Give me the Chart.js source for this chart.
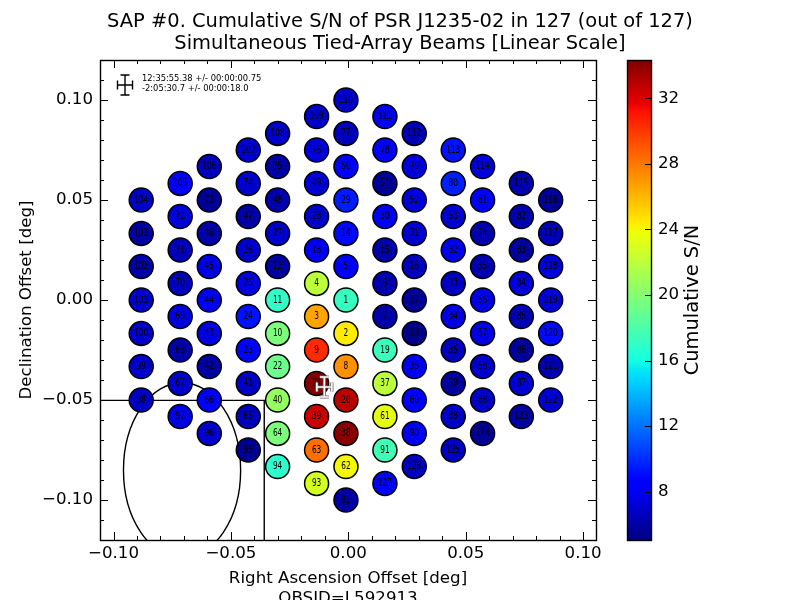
<!DOCTYPE html>
<html><head><meta charset="utf-8">
<style>html,body{margin:0;padding:0;background:#fff}canvas{display:block}</style>
<script src="https://cdn.jsdelivr.net/npm/chart.js@4/dist/chart.umd.min.js"></script>
</head><body>
<div style="width:800px;height:600px"><canvas id="c" width="800" height="600"></canvas></div>
<script>
// Beam labels, listed by column (left to right, top to bottom)
const beamLabels = [
104,103,102,101,100,99,98,
105,72,71,70,69,68,67,97,
106,73,46,45,44,43,42,66,96,
107,74,47,26,25,24,23,41,65,95,
108,75,48,27,12,11,10,22,40,64,94,
109,76,49,28,13,4,3,9,21,39,63,93,
110,77,50,29,14,5,1,2,8,20,38,62,92,
111,78,51,30,15,6,7,19,37,61,91,127,
112,79,52,31,16,17,18,36,60,90,126,
113,80,53,32,33,34,35,59,89,125,
114,81,54,55,56,57,58,88,124,
115,82,83,84,85,86,87,123,
116,117,118,119,120,121,122];
const beamRA = [
-0.0882,-0.0882,-0.0882,-0.0882,-0.0882,-0.0882,-0.0882,
-0.0716,-0.0716,-0.0716,-0.0716,-0.0716,-0.0716,-0.0716,-0.0716,
-0.0592,-0.0592,-0.0592,-0.0592,-0.0592,-0.0592,-0.0592,-0.0592,-0.0592,
-0.0426,-0.0426,-0.0426,-0.0426,-0.0426,-0.0426,-0.0426,-0.0426,-0.0426,-0.0426,
-0.0301,-0.0301,-0.0301,-0.0301,-0.0301,-0.0301,-0.0301,-0.0301,-0.0301,-0.0301,-0.0301,
-0.0135,-0.0135,-0.0135,-0.0135,-0.0135,-0.0135,-0.0135,-0.0135,-0.0135,-0.0135,-0.0135,-0.0135,
-0.0010,-0.0010,-0.0010,-0.0010,-0.0010,-0.0010,-0.0010,-0.0010,-0.0010,-0.0010,-0.0010,-0.0010,-0.0010,
0.0156,0.0156,0.0156,0.0156,0.0156,0.0156,0.0156,0.0156,0.0156,0.0156,0.0156,0.0156,
0.0281,0.0281,0.0281,0.0281,0.0281,0.0281,0.0281,0.0281,0.0281,0.0281,0.0281,
0.0447,0.0447,0.0447,0.0447,0.0447,0.0447,0.0447,0.0447,0.0447,0.0447,
0.0572,0.0572,0.0572,0.0572,0.0572,0.0572,0.0572,0.0572,0.0572,
0.0737,0.0737,0.0737,0.0737,0.0737,0.0737,0.0737,0.0737,
0.0862,0.0862,0.0862,0.0862,0.0862,0.0862,0.0862];
const beamDec = [
0.0500,0.0333,0.0167,0.0000,-0.0167,-0.0333,-0.0500,
0.0583,0.0417,0.0250,0.0083,-0.0083,-0.0250,-0.0417,-0.0583,
0.0667,0.0500,0.0333,0.0167,0.0000,-0.0167,-0.0333,-0.0500,-0.0667,
0.0750,0.0583,0.0417,0.0250,0.0083,-0.0083,-0.0250,-0.0417,-0.0583,-0.0750,
0.0833,0.0667,0.0500,0.0333,0.0167,0.0000,-0.0167,-0.0333,-0.0500,-0.0667,-0.0833,
0.0917,0.0750,0.0583,0.0417,0.0250,0.0083,-0.0083,-0.0250,-0.0417,-0.0583,-0.0750,-0.0917,
0.1000,0.0833,0.0667,0.0500,0.0333,0.0167,0.0000,-0.0167,-0.0333,-0.0500,-0.0667,-0.0833,-0.1000,
0.0917,0.0750,0.0583,0.0417,0.0250,0.0083,-0.0083,-0.0250,-0.0417,-0.0583,-0.0750,-0.0917,
0.0833,0.0667,0.0500,0.0333,0.0167,0.0000,-0.0167,-0.0333,-0.0500,-0.0667,-0.0833,
0.0750,0.0583,0.0417,0.0250,0.0083,-0.0083,-0.0250,-0.0417,-0.0583,-0.0750,
0.0667,0.0500,0.0333,0.0167,0.0000,-0.0167,-0.0333,-0.0500,-0.0667,
0.0583,0.0417,0.0250,0.0083,-0.0083,-0.0250,-0.0417,-0.0583,
0.0500,0.0333,0.0167,0.0000,-0.0167,-0.0333,-0.0500];
const beamSN = [
7.0,6.0,6.1,7.0,7.0,7.0,6.8,
8.3,7.3,6.5,6.6,7.4,6.1,7.0,7.6,
6.6,5.7,6.2,7.6,8.1,7.7,6.0,8.3,7.2,
6.9,7.0,6.0,7.0,7.5,9.2,8.8,6.8,6.6,5.5,
7.0,6.0,6.3,7.0,5.9,17.0,19.7,19.1,20.6,19.7,16.8,
7.0,7.3,7.2,7.0,8.1,22.0,26.6,30.4,34.2,32.5,28.3,22.9,
7.0,6.6,8.6,9.5,8.9,8.3,17.2,24.4,27.2,32.8,34.1,24.0,6.0,
8.0,8.2,5.6,8.1,6.1,6.2,6.1,17.4,22.0,23.5,17.6,8.2,
6.4,7.3,7.4,7.1,6.6,5.7,5.3,8.1,8.7,8.2,6.7,
9.2,9.6,7.1,7.8,6.8,7.6,6.6,5.9,7.0,6.8,
7.4,8.2,6.2,6.3,7.7,7.6,6.9,6.9,5.6,
6.3,6.3,5.9,7.4,6.4,5.8,7.2,6.0,
5.7,6.5,7.4,7.3,9.0,6.3,7.2];

const xTickValues = [-0.10,-0.05,0,0.05,0.10];
const yTickValues = [-0.10,-0.05,0,0.05,0.10];
const cbTickValues = [8,12,16,20,24,28,32];
const xRange = [-0.10575,0.1055];
const yRange = [-0.12,0.12];
const cbRange = [5.05,34.34];
const boxRA = [-0.10575,-0.0358,-0.0358];
const boxDec = [-0.0502,-0.0502,-0.12];
const ellipseCentre = [-0.0708,-0.0851];
const ellipseAxes = [0.02495,0.04375];
const pointing = [-0.0102,-0.0435];
const pointingErr = [0.0032,0.005];
const refCross = [-0.0951,0.1075];
const positionLines = ['12:35:55.38 +/- 00:00:00.75','-2:05:30.7 +/- 00:00:18.0'];
const titleLines = ['SAP #0. Cumulative S/N of PSR J1235-02 in 127 (out of 127)','Simultaneous Tied-Array Beams [Linear Scale]'];
const FONT = '"DejaVu Sans"';

const jetR=[[0,0],[.35,0],[.66,1],[.89,1],[1,.5]];
const jetG=[[0,0],[.125,0],[.375,1],[.64,1],[.91,0],[1,0]];
const jetB=[[0,.5],[.11,1],[.34,1],[.65,0],[1,0]];
function seg(p,t){for(let i=1;i<p.length;i++){if(t<=p[i][0]){const a=p[i-1],b=p[i];return a[1]+(b[1]-a[1])*(t-a[0])/(b[0]-a[0]);}}return p[p.length-1][1];}
function jet(t){t=Math.max(0,Math.min(1,t));return `rgb(${Math.round(255*seg(jetR,t))},${Math.round(255*seg(jetG,t))},${Math.round(255*seg(jetB,t))})`;}
function snColour(v){return jet((v-cbRange[0])/(cbRange[1]-cbRange[0]));}
function fmtTick(v){return v.toFixed(2).replace('-','\u2212');}

function multiples(lo,hi){const out=[];for(let i=Math.ceil(lo*100-1e-6);i<=Math.floor(hi*100+1e-6);i++)out.push(i/100);return out;}

const decor = {
  id:'decor',
  afterLayout(chart){
    const s=chart.scales.cb;
    s.left=651; s.right=800; s.width=149;
  },
  beforeDatasetsDraw(chart){
    const {ctx,chartArea:a,scales:{x,y}}=chart;
    ctx.save();
    ctx.beginPath();ctx.rect(a.left,a.top,a.right-a.left,a.bottom-a.top);ctx.clip();
    const cx=x.getPixelForValue(ellipseCentre[0]),cy=y.getPixelForValue(ellipseCentre[1]);
    const rx=Math.abs(x.getPixelForValue(ellipseCentre[0]+ellipseAxes[0])-cx);
    const ry=Math.abs(y.getPixelForValue(ellipseCentre[1]+ellipseAxes[1])-cy);
    ctx.beginPath();ctx.ellipse(cx,cy,rx,ry,0,0,Math.PI*2);
    ctx.strokeStyle='#000';ctx.lineWidth=1.4;ctx.stroke();
    ctx.restore();
  },
  afterDatasetsDraw(chart){
    const {ctx,chartArea:a,scales:{x,y,cb}}=chart;
    ctx.save();
    // beam numbers, narrow and tall like the reference's hinted glyphs
    const meta=chart.getDatasetMeta(0);
    ctx.font='10px '+FONT;ctx.textAlign='center';ctx.textBaseline='middle';ctx.fillStyle='#000';
    meta.data.forEach((p,i)=>{
      ctx.save();ctx.translate(p.x,p.y);ctx.scale(0.74,1);
      ctx.fillText(String(beamLabels[i]),0,0);
      ctx.restore();
    });
    // error crosses
    function cross(vx,vy,col,w){
      const px=x.getPixelForValue(vx),py=y.getPixelForValue(vy);
      const dx=Math.abs(x.getPixelForValue(vx+pointingErr[0])-px),dy=Math.abs(y.getPixelForValue(vy+pointingErr[1])-py);
      ctx.strokeStyle=col;ctx.lineWidth=w;ctx.beginPath();
      ctx.moveTo(px-dx,py);ctx.lineTo(px+dx,py);
      ctx.moveTo(px,py-dy);ctx.lineTo(px,py+dy);
      ctx.moveTo(px-dx,py-4.5);ctx.lineTo(px-dx,py+4.5);
      ctx.moveTo(px+dx,py-4.5);ctx.lineTo(px+dx,py+4.5);
      ctx.moveTo(px-4.5,py-dy);ctx.lineTo(px+4.5,py-dy);
      ctx.moveTo(px-4.5,py+dy);ctx.lineTo(px+4.5,py+dy);
      ctx.stroke();
    }
    cross(pointing[0],pointing[1],'#666',3.2);
    cross(pointing[0],pointing[1],'#fff',1.6);
    cross(refCross[0],refCross[1],'#000',1.4);
    // position text
    ctx.font='8.33px '+FONT;ctx.textAlign='left';ctx.fillStyle='#000';
    ctx.fillText(positionLines[0],142,79);
    ctx.fillText(positionLines[1],142,89);
    // frame + ticks
    ctx.strokeStyle='#000';ctx.lineWidth=1.4;
    ctx.strokeRect(Math.round(a.left)+.5,Math.round(a.top)+.5,a.right-a.left,a.bottom-a.top);
    ctx.lineWidth=1;
    ctx.beginPath();
    multiples(xRange[0],xRange[1]).forEach(v=>{
      const p=Math.round(x.getPixelForValue(v))+.5;
      const major=Math.abs(v*20-Math.round(v*20))<1e-6,l=major?8:4;
      ctx.moveTo(p,a.bottom);ctx.lineTo(p,a.bottom-l);
      ctx.moveTo(p,a.top);ctx.lineTo(p,a.top+l);
    });
    multiples(yRange[0],yRange[1]).forEach(v=>{
      const p=Math.round(y.getPixelForValue(v))+.5;
      const major=Math.abs(v*20-Math.round(v*20))<1e-6,l=major?8:4;
      ctx.moveTo(a.left,p);ctx.lineTo(a.left+l,p);
      ctx.moveTo(a.right,p);ctx.lineTo(a.right-l,p);
    });
    ctx.stroke();
    // colour bar
    const top=cb.getPixelForValue(cbRange[1]),bot=cb.getPixelForValue(cbRange[0]);
    const g=ctx.createLinearGradient(0,bot,0,top);
    const stops=[...new Set([...jetR,...jetG,...jetB].map(p=>p[0]))].sort((m,n)=>m-n);
    stops.forEach(t=>g.addColorStop(t,jet(t)));
    ctx.fillStyle=g;ctx.fillRect(627,top,24,bot-top);
    ctx.strokeStyle='#000';ctx.lineWidth=1.4;ctx.strokeRect(627.5,top+.5,24,bot-top);
    ctx.lineWidth=1;
    ctx.beginPath();
    cbTickValues.forEach(v=>{const p=Math.round(cb.getPixelForValue(v))+.5;ctx.moveTo(651,p);ctx.lineTo(645,p);});
    ctx.stroke();
    // colour bar title
    ctx.translate(693,300);ctx.rotate(-Math.PI/2);
    ctx.font='19.44px '+FONT;ctx.textAlign='center';ctx.textBaseline='middle';ctx.fillStyle='#000';
    ctx.fillText('Cumulative S/N',0,0);
    ctx.restore();
  }
};

new Chart(document.getElementById('c'),{
  plugins:[decor],
  data:{datasets:[
    {type:'scatter',order:1,
     data:beamRA.map((v,i)=>({x:v,y:beamDec[i]})),
     backgroundColor:beamSN.map(snColour),borderColor:'#000',borderWidth:1.5,pointRadius:12,pointHoverRadius:12},
    {type:'line',order:2,
     data:boxRA.map((v,i)=>({x:v,y:boxDec[i]})),
     borderColor:'#000',borderWidth:1.4,pointRadius:0,fill:false,tension:0}
  ]},
  options:{
    responsive:false,animation:false,devicePixelRatio:1,
    layout:{padding:0},
    plugins:{
      legend:{display:false},tooltip:{enabled:false},
      title:{display:true,text:titleLines,color:'#000',font:{family:FONT,size:19.44,weight:'normal',lineHeight:22/19.44},padding:{top:11,bottom:5}}
    },
    scales:{
      x:{type:'linear',position:'bottom',min:xRange[0],max:xRange[1],
        afterFit(s){s.height=60;},
        afterBuildTicks(s){s.ticks=xTickValues.map(v=>({value:v}));},
        grid:{drawOnChartArea:false,drawTicks:false},border:{display:false},
        ticks:{color:'#000',font:{family:FONT,size:16.67},padding:4,maxRotation:0,autoSkip:false,callback:fmtTick},
        title:{display:true,text:['Right Ascension Offset [deg]','OBSID=L592913'],color:'#000',font:{family:FONT,size:16.67,lineHeight:1.2},padding:{top:0,bottom:-9}}},
      y:{type:'linear',position:'left',min:yRange[0],max:yRange[1],
        afterFit(s){s.width=100;},
        afterBuildTicks(s){s.ticks=yTickValues.map(v=>({value:v}));},
        grid:{drawOnChartArea:false,drawTicks:false},border:{display:false},
        ticks:{color:'#000',font:{family:FONT,size:16.67},padding:7,autoSkip:false,callback:fmtTick},
        title:{display:true,text:'Declination Offset [deg]',color:'#000',font:{family:FONT,size:16.67,lineHeight:1.2},padding:{top:17,bottom:0}}},
      cb:{type:'linear',position:'right',min:cbRange[0],max:cbRange[1],
        afterFit(s){s.width=204;},
        afterBuildTicks(s){s.ticks=cbTickValues.map(v=>({value:v}));},
        grid:{drawOnChartArea:false,drawTicks:false},border:{display:false},
        ticks:{color:'#000',font:{family:FONT,size:16.67},padding:7,autoSkip:false,callback:v=>String(v)}}
    }
  }
});
</script>
</body></html>
